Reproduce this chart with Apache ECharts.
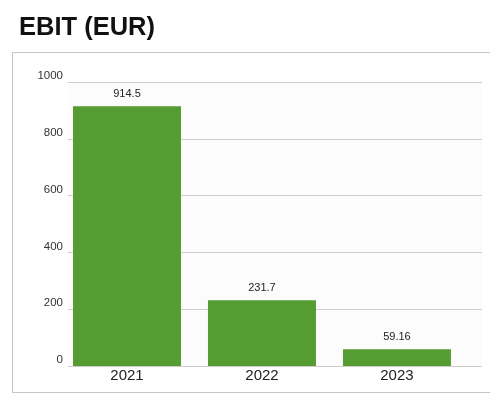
<!DOCTYPE html>
<html>
<head>
<meta charset="utf-8">
<script src="https://cdn.jsdelivr.net/npm/echarts@6/dist/echarts.min.js"></script>
<style>
  html, body { margin: 0; padding: 0; background: #fff; }
  #chart { width: 490px; height: 405px; }
</style>
</head>
<body>
<div id="chart"></div>
<script>
// EBIT per fiscal year, in EUR
const years = ['2021', '2022', '2023'];
const ebitValues = [914.5, 231.7, 59.16];
const yTicks = [0, 200, 400, 600, 800, 1000];

const chart = echarts.init(document.getElementById('chart'), null, { renderer: 'canvas' });

// bars are placed at positions 0, 1, 2 on a numeric x scale
const positions = years.map((_, i) => i);

chart.setOption({
  animation: false,
  backgroundColor: '#ffffff',
  title: {
    text: 'EBIT (EUR)',
    left: 14,
    top: 10,
    textStyle: { fontFamily: 'Liberation Sans, Arial, sans-serif', fontSize: 25.5, fontWeight: 'bold', color: '#111' }
  },
  graphic: [{
    type: 'rect',
    x: 0, y: 0,
    shape: { x: 12.5, y: 52.5, width: 500, height: 340 },
    style: { fill: 'none', stroke: '#c4c4c4', lineWidth: 1 },
    silent: true,
    z: -10
  }],
  grid: {
    left: 68, right: 8, top: 82, bottom: 39,
    show: true, backgroundColor: '#fcfcfc', borderWidth: 0
  },
  xAxis: {
    type: 'value',
    min: -0.437,
    max: 2.63,
    axisLine: { show: false },
    axisTick: { show: false },
    splitLine: { show: false },
    axisLabel: {
      customValues: positions,
      formatter: v => years[Math.round(v)],
      fontFamily: 'Liberation Sans, Arial, sans-serif',
      fontSize: 15,
      color: '#222',
      margin: 2
    }
  },
  yAxis: {
    type: 'value',
    min: yTicks[0],
    max: yTicks[yTicks.length - 1],
    interval: 200,
    axisLine: { show: false },
    axisTick: { show: false },
    splitLine: { lineStyle: { color: '#cdcdcd', width: 1 } },
    axisLabel: {
      formatter: v => String(v),
      fontFamily: 'Liberation Sans, Arial, sans-serif',
      fontSize: 11.5,
      color: '#333',
      margin: 5,
      verticalAlign: 'bottom'
    }
  },
  series: [{
    type: 'bar',
    data: positions.map((p, i) => [p, ebitValues[i]]),
    barWidth: 108,
    itemStyle: { color: '#559d32' },
    label: {
      show: true,
      position: 'top',
      distance: 7,
      formatter: p => String(ebitValues[p.dataIndex]),
      fontFamily: 'Liberation Sans, Arial, sans-serif',
      fontSize: 11,
      color: '#222'
    }
  }]
});
</script>
</body>
</html>
